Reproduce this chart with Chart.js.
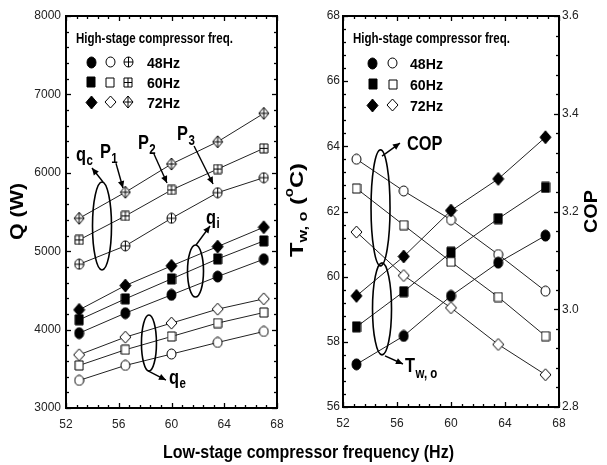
<!DOCTYPE html>
<html><head><meta charset="utf-8">
<script src="https://cdn.jsdelivr.net/npm/chart.js@4.4.0/dist/chart.umd.min.js"></script>
<style>
html,body{margin:0;padding:0;background:#fff;}
#wrap{position:relative;width:607px;height:465px;overflow:hidden;background:#fff;}
#c1{position:absolute;left:0;top:0;}
#c2{position:absolute;left:300px;top:0;}
#ov{position:absolute;left:0;top:0;pointer-events:none;}
</style></head>
<body>
<div id="wrap">
<canvas id="c1" width="300" height="465"></canvas>
<canvas id="c2" width="307" height="465"></canvas>
<canvas id="ov" width="607" height="465"></canvas>
</div>
<script>
// ---- data ----
const lowFreq = [53, 56.5, 60, 63.5, 67];
const highFreqLabels = ['48Hz', '60Hz', '72Hz'];
const qTicks = [3000, 4000, 5000, 6000, 7000, 8000];
const freqTicks = [52, 56, 60, 64, 68];
const twTicks = [56, 58, 60, 62, 64, 66, 68];
const copTicks = [2.8, 3.0, 3.2, 3.4, 3.6];
// condenser heat q_c
const qc48 = [4834, 5068, 5420, 5747, 5938];
const qc60 = [5144, 5450, 5781, 6048, 6312];
const qc72 = [5420, 5752, 6112, 6396, 6758];
// intermediate heat q_i
const qi48 = [3955, 4210, 4443, 4677, 4898];
const qi60 = [4125, 4392, 4647, 4902, 5131];
const qi72 = [4252, 4562, 4813, 5059, 5306];
// evaporator heat q_e
const qe48 = [3352, 3543, 3688, 3836, 3976];
const qe60 = [3543, 3743, 3912, 4083, 4218];
const qe72 = [3679, 3904, 4083, 4261, 4392];
// outlet water temperature
const tw48 = [57.31, 58.18, 59.41, 60.43, 61.26];
const tw60 = [58.46, 59.54, 60.75, 61.78, 62.74];
const tw72 = [59.41, 60.62, 62.03, 63.00, 64.28];
// COP
const cop48 = [3.307, 3.242, 3.183, 3.112, 3.037];
const cop60 = [3.247, 3.172, 3.097, 3.025, 2.945];
const cop72 = [3.158, 3.069, 3.003, 2.928, 2.866];

// ---- styles ----
const SANS = '"Liberation Sans", Arial, sans-serif';
const tickFont = {family: SANS, size: 12};
const NARROW_SCALE = 0.82;

function makeSym(shape, fill, w, h) {
  const c = document.createElement('canvas');
  c.width = w + 2; c.height = h + 2;
  const g = c.getContext('2d');
  const cx = c.width / 2, cy = c.height / 2, rx = w / 2, ry = h / 2;
  g.beginPath();
  if (shape === 'circle') g.ellipse(cx, cy, rx, ry, 0, 0, Math.PI * 2);
  else if (shape === 'square') g.rect(cx - rx, cy - ry, w, h);
  else { g.moveTo(cx, cy - ry); g.lineTo(cx + rx, cy); g.lineTo(cx, cy + ry); g.lineTo(cx - rx, cy); g.closePath(); }
  g.fillStyle = fill === 'solid' ? '#000' : '#fff';
  g.fill();
  g.lineWidth = 1; g.strokeStyle = '#000'; g.stroke();
  if (fill === 'cross') {
    g.beginPath();
    g.moveTo(cx, cy - ry); g.lineTo(cx, cy + ry);
    g.moveTo(cx - rx, cy); g.lineTo(cx + rx, cy);
    g.stroke();
  }
  return c;
}
const SYM = {
  circle: {solid: makeSym('circle','solid',9,11), open: makeSym('circle','open',9,10), cross: makeSym('circle','cross',9,10)},
  square: {solid: makeSym('square','solid',8,10), open: makeSym('square','open',8,9), cross: makeSym('square','cross',8,9)},
  diamond:{solid: makeSym('diamond','solid',11,13), open: makeSym('diamond','open',11,12), cross: makeSym('diamond','cross',10,12)}
};
const shapes = ['circle', 'square', 'diamond'];

function ds(ys, sym, axis) {
  return {
    data: lowFreq.map((x, i) => ({x: x, y: ys[i]})),
    borderColor: '#222', borderWidth: 1, pointStyle: sym, pointRadius: 5,
    fill: false, tension: 0, yAxisID: axis || 'y'
  };
}

// ---- drawing helpers ----
function fitText(ctx, text, x, y, width, align) {
  const m = ctx.measureText(text).width;
  const s = width ? width / m : 1;
  ctx.save();
  ctx.translate(x, y);
  ctx.scale(s, 1);
  ctx.textAlign = align || 'left';
  ctx.fillText(text, 0, 0);
  ctx.restore();
}
function arrow(ctx, x1, y1, x2, y2) {
  ctx.beginPath(); ctx.moveTo(x1, y1); ctx.lineTo(x2, y2); ctx.stroke();
  const a = Math.atan2(y2 - y1, x2 - x1), L = 7, W = 3.2;
  ctx.beginPath();
  ctx.moveTo(x2, y2);
  ctx.lineTo(x2 - L * Math.cos(a) + W * Math.sin(a), y2 - L * Math.sin(a) - W * Math.cos(a));
  ctx.lineTo(x2 - L * Math.cos(a) - W * Math.sin(a), y2 - L * Math.sin(a) + W * Math.cos(a));
  ctx.closePath(); ctx.fill();
}
function subText(ctx, x, y, main, sub, dy) {
  ctx.save();
  ctx.translate(x, y);
  ctx.scale(NARROW_SCALE, 1);
  ctx.font = 'bold 20px ' + SANS;
  ctx.textAlign = 'left'; ctx.textBaseline = 'alphabetic';
  ctx.fillText(main, 0, 0);
  const w = ctx.measureText(main).width;
  if (sub) {
    ctx.font = 'bold 14px ' + SANS;
    ctx.fillText(sub, w + 0.5, dy);
  }
  ctx.restore();
}
function drawFrame(chart, leftAxis, rightAxis, majors) {
  const {ctx, chartArea: a, scales} = chart;
  ctx.save();
  ctx.strokeStyle = '#000';
  ctx.lineWidth = 1.3;
  function ticks(key, side, major) {
    const s = scales[key];
    const minor = major / 5;
    const n = Math.round((s.max - s.min) / minor);
    for (let i = 0; i <= n; i++) {
      const v = s.min + i * minor;
      const len = i % 5 === 0 ? 5 : 3;
      const p = Math.round(s.getPixelForValue(v)) + 0.5;
      ctx.beginPath();
      if (side === 'bottom') { ctx.moveTo(p, a.bottom); ctx.lineTo(p, a.bottom - len); }
      if (side === 'top') { ctx.moveTo(p, a.top); ctx.lineTo(p, a.top + len); }
      if (side === 'left') { ctx.moveTo(a.left, p); ctx.lineTo(a.left + len, p); }
      if (side === 'right') { ctx.moveTo(a.right, p); ctx.lineTo(a.right - len, p); }
      ctx.stroke();
    }
  }
  ticks('x', 'bottom', majors.x);
  ticks('x', 'top', majors.x);
  ticks(leftAxis, 'left', majors[leftAxis]);
  ticks(rightAxis, 'right', majors[rightAxis]);
  ctx.lineWidth = 2;
  ctx.strokeRect(a.left, a.top, a.right - a.left, a.bottom - a.top);
  ctx.restore();
}
function drawLegend(ctx, x0, y0, cols, rowGap, textX, headerW) {
  ctx.save();
  ctx.fillStyle = '#000';
  ctx.font = 'bold 14px ' + SANS;
  ctx.textBaseline = 'alphabetic';
  fitText(ctx, 'High-stage compressor freq.', x0.header, y0.header, headerW);
  ctx.font = 'bold 14px ' + SANS;
  highFreqLabels.forEach((lab, r) => {
    const y = y0.rows + r * rowGap;
    cols.forEach((c) => {
      const img = SYM[shapes[r]][c.kind];
      ctx.drawImage(img, Math.round(c.x - img.width / 2), Math.round(y - img.height / 2));
    });
    fitText(ctx, lab, textX, y + 5.5, 33);
  });
  ctx.restore();
}

function scaleOpts(min, max, step, cb, pad, fitW, pos) {
  return {
    type: 'linear', min: min, max: max, position: pos,
    ticks: {stepSize: step, font: tickFont, color: '#222', padding: pad, callback: cb, maxRotation: 0, autoSkip: false},
    grid: {display: false, drawTicks: false}, border: {display: false},
    afterFit: fitW
  };
}

// ---- left chart: Q ----
const annLeft = {
  id: 'annLeft',
  afterDraw(chart) {
    const ctx = chart.ctx, sx = chart.scales.x, sy = chart.scales.y;
    const P = (x, y) => [sx.getPixelForValue(x), sy.getPixelForValue(y)];
    drawFrame(chart, 'y', 'y', {x: 4, y: 1000});
    ctx.save();
    ctx.strokeStyle = '#000'; ctx.fillStyle = '#000'; ctx.lineWidth = 1.6;
    [[54.73, 5321, 9.5, 44], [61.82, 4747, 8, 26], [58.29, 3829, 7.5, 28]].forEach(e => {
      const [cx, cy] = P(e[0], e[1]);
      ctx.beginPath(); ctx.ellipse(cx, cy, e[2], e[3], 0, 0, Math.PI * 2); ctx.stroke();
    });
    ctx.lineWidth = 1.4;
    const arrows = [
      [54.81, 5883, 53.97, 6061], [55.79, 6121, 56.32, 5806], [58.67, 6240, 59.66, 5870],
      [61.71, 6342, 63.15, 5857], [61.86, 5079, 62.92, 5321], [58.22, 3472, 59.58, 3357]
    ];
    arrows.forEach(a => { const p1 = P(a[0], a[1]), p2 = P(a[2], a[3]); arrow(ctx, p1[0], p1[1], p2[0], p2[1]); });
    let p;
    p = P(52.76, 6150); subText(ctx, p[0], p[1], 'q', 'c', 4);
    p = P(54.58, 6189); subText(ctx, p[0], p[1], 'P', '1', 5);
    p = P(57.46, 6303); subText(ctx, p[0], p[1], 'P', '2', 5);
    p = P(60.42, 6418); subText(ctx, p[0], p[1], 'P', '3', 5);
    p = P(62.62, 5347); subText(ctx, p[0], p[1], 'q', 'i', 4);
    p = P(59.81, 3306); subText(ctx, p[0], p[1], 'q', 'e', 4);
    ctx.restore();
    drawLegend(ctx, {header: 76}, {header: 43, rows: 62}, [{x: 91, kind: 'solid'}, {x: 110, kind: 'open'}, {x: 128, kind: 'cross'}], 20, 147, 157);
  }
};

new Chart(document.getElementById('c1'), {
  type: 'line',
  data: {datasets: [
    ds(qc48, SYM.circle.cross), ds(qc60, SYM.square.cross), ds(qc72, SYM.diamond.cross),
    ds(qi48, SYM.circle.solid), ds(qi60, SYM.square.solid), ds(qi72, SYM.diamond.solid),
    ds(qe48, SYM.circle.open), ds(qe60, SYM.square.open), ds(qe72, SYM.diamond.open)
  ]},
  options: {
    responsive: false, animation: false, events: [],
    layout: {padding: {left: 0, top: 16, right: 23, bottom: 0}},
    plugins: {legend: {display: false}, tooltip: {enabled: false}},
    scales: {
      x: scaleOpts(freqTicks[0], freqTicks[freqTicks.length - 1], 4, v => String(v), 9, s => { s.height = 465 - 408; }, 'bottom'),
      y: scaleOpts(qTicks[0], qTicks[qTicks.length - 1], 1000, v => String(v), 5, s => { s.width = 66; }, 'left')
    }
  },
  plugins: [annLeft]
});

// ---- right chart: Tw,o and COP ----
const annRight = {
  id: 'annRight',
  afterDraw(chart) {
    const ctx = chart.ctx, sx = chart.scales.x, sy = chart.scales.y;
    const P = (x, y) => [sx.getPixelForValue(x), sy.getPixelForValue(y)];
    drawFrame(chart, 'y', 'y2', {x: 4, y: 2, y2: 0.2});
    ctx.save();
    ctx.strokeStyle = '#000'; ctx.fillStyle = '#000'; ctx.lineWidth = 1.6;
    [[54.78, 62.11, 9.5, 58], [54.89, 59.01, 9.5, 46]].forEach(e => {
      const [cx, cy] = P(e[0], e[1]);
      ctx.beginPath(); ctx.ellipse(cx, cy, e[2], e[3], 0, 0, Math.PI * 2); ctx.stroke();
    });
    ctx.lineWidth = 1.4;
    [[54.89, 63.70, 56.22, 64.10], [55.11, 57.57, 56.44, 57.32]].forEach(a => {
      const p1 = P(a[0], a[1]), p2 = P(a[2], a[3]); arrow(ctx, p1[0], p1[1], p2[0], p2[1]);
    });
    let p = P(56.74, 63.89); subText(ctx, p[0], p[1], 'COP', '', 0);
    p = P(56.59, 57.07); subText(ctx, p[0], p[1], 'T', 'w, o', 6);
    ctx.restore();
    drawLegend(ctx, {header: 53}, {header: 43, rows: 63}, [{x: 72.7, kind: 'solid'}, {x: 92.7, kind: 'open'}], 21, 110, 157);
  }
};

new Chart(document.getElementById('c2'), {
  type: 'line',
  data: {datasets: [
    ds(tw48, SYM.circle.solid, 'y'), ds(tw60, SYM.square.solid, 'y'), ds(tw72, SYM.diamond.solid, 'y'),
    ds(cop48, SYM.circle.open, 'y2'), ds(cop60, SYM.square.open, 'y2'), ds(cop72, SYM.diamond.open, 'y2')
  ]},
  options: {
    responsive: false, animation: false, events: [],
    layout: {padding: {left: 0, top: 16, right: 0, bottom: 0}},
    plugins: {legend: {display: false}, tooltip: {enabled: false}},
    scales: {
      x: scaleOpts(freqTicks[0], freqTicks[freqTicks.length - 1], 4, v => String(v), 9, s => { s.height = 465 - 407; }, 'bottom'),
      y: scaleOpts(twTicks[0], twTicks[twTicks.length - 1], 2, v => String(v), 3, s => { s.width = 43; }, 'left'),
      y2: scaleOpts(copTicks[0], copTicks[copTicks.length - 1], 0.2, v => v.toFixed(1), 3, s => { s.width = 48; }, 'right')
    }
  },
  plugins: [annRight]
});

// ---- overlay: axis titles ----
(function () {
  const ctx = document.getElementById('ov').getContext('2d');
  ctx.fillStyle = '#000';
  ctx.textBaseline = 'alphabetic';
  ctx.font = 'bold 18px ' + SANS;
  fitText(ctx, 'Low-stage compressor frequency (Hz)', 163, 458, 291);
  ctx.save();
  ctx.translate(18, 211.5); ctx.rotate(-Math.PI / 2);
  ctx.font = 'bold 19px ' + SANS; ctx.textBaseline = 'middle';
  fitText(ctx, 'Q (W)', 0, 0, 57, 'center');
  ctx.restore();
  ctx.save();
  ctx.translate(592, 211.5); ctx.rotate(-Math.PI / 2);
  ctx.font = 'bold 18px ' + SANS; ctx.textBaseline = 'middle';
  fitText(ctx, 'COP', 0, 0, 43, 'center');
  ctx.restore();
  ctx.save();
  ctx.translate(298, 210); ctx.rotate(-Math.PI / 2);
  const parts = [
    {t: 'T', f: 'bold 19px ' + SANS, dy: 0},
    {t: 'w, o', f: 'bold 13px ' + SANS, dy: 5},
    {t: ' (', f: 'bold 19px ' + SANS, dy: 0},
    {t: 'o', f: 'bold 12px ' + SANS, dy: -8},
    {t: 'C)', f: 'bold 19px ' + SANS, dy: 0}
  ];
  let total = 0;
  parts.forEach(pt => { ctx.font = pt.f; pt.w = ctx.measureText(pt.t).width; total += pt.w; });
  ctx.scale(94 / total, 1);
  let x = -total / 2;
  parts.forEach(pt => { ctx.font = pt.f; ctx.textBaseline = 'middle'; ctx.fillText(pt.t, x, pt.dy); x += pt.w; });
  ctx.restore();
})();
</script>
</body></html>
